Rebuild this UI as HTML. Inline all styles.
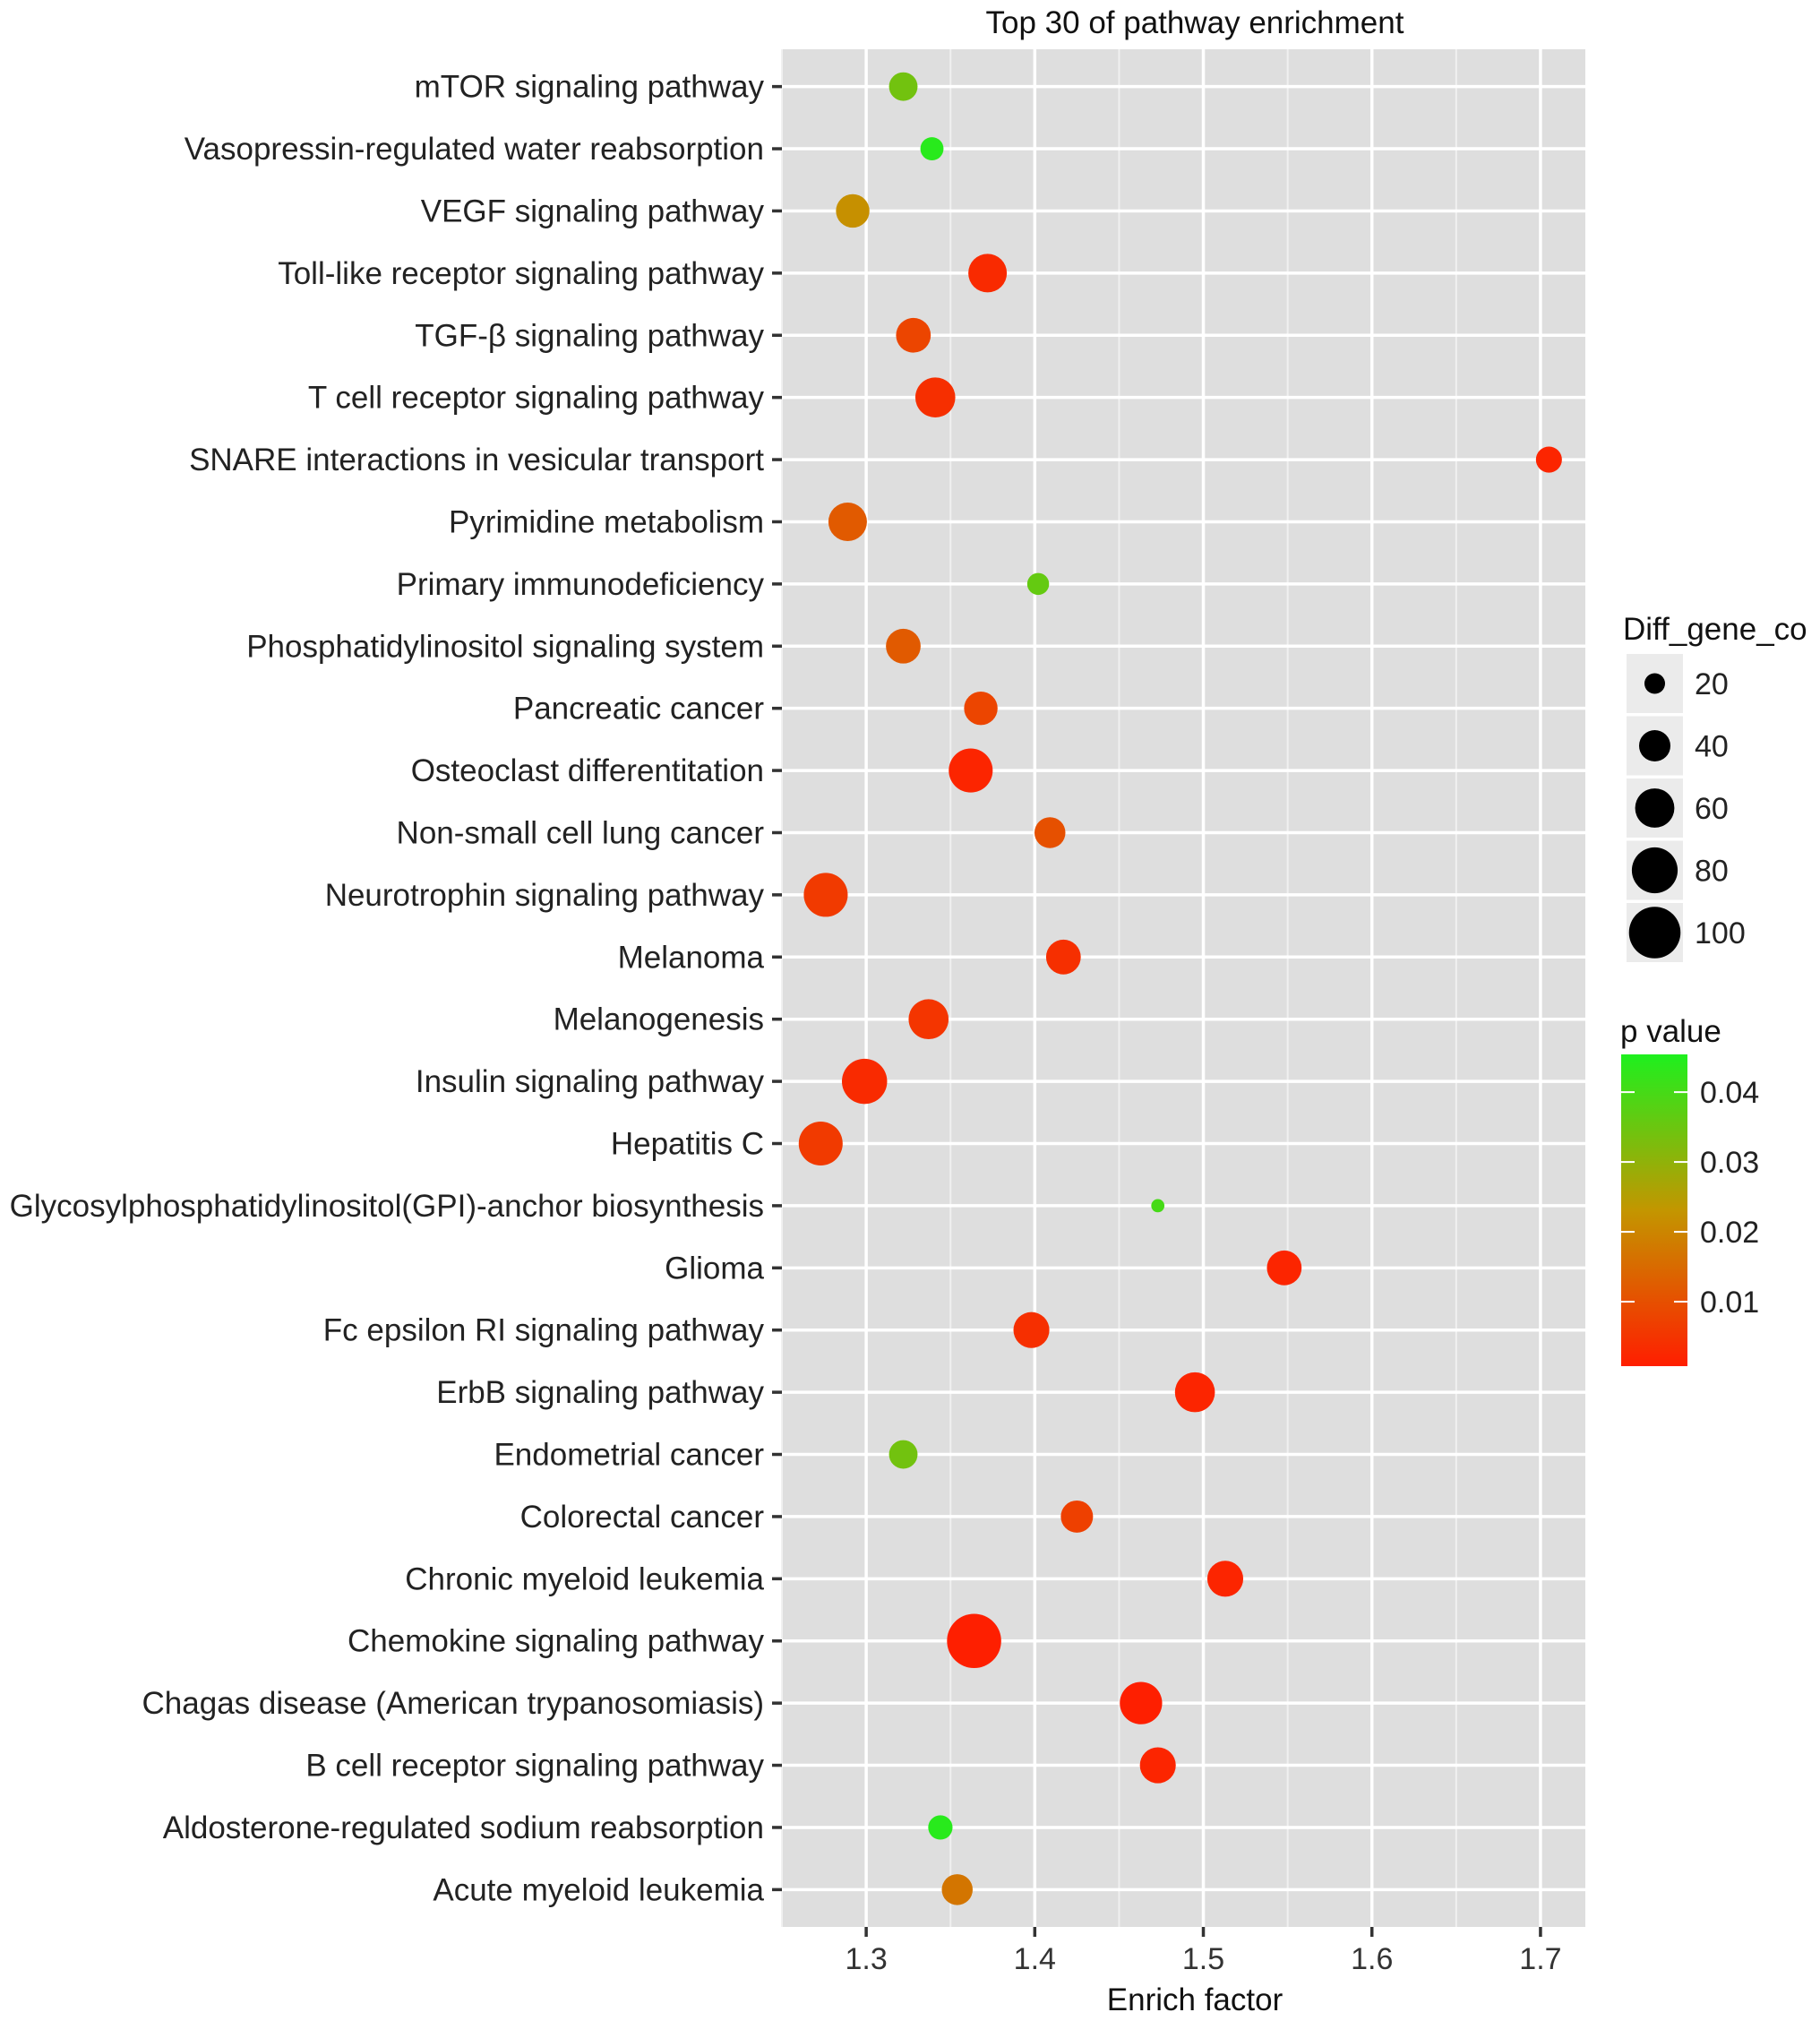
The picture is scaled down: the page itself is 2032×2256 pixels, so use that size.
<!DOCTYPE html>
<html><head><meta charset="utf-8"><style>
html,body{margin:0;padding:0;background:#fff}
svg{display:block;font-family:"Liberation Sans",Arial,sans-serif}
</style></head><body>
<svg id="chart" width="2032" height="2256" viewBox="0 0 2032 2256" xmlns="http://www.w3.org/2000/svg">
<defs>
<linearGradient id="pgrad" x1="0" y1="1" x2="0" y2="0">
<stop offset="0" stop-color="rgb(255,30,0)"/>
<stop offset="0.5" stop-color="rgb(195,150,0)"/>
<stop offset="1" stop-color="rgb(30,240,30)"/>
</linearGradient>
</defs>
<text x="1334" y="37" font-size="35" text-anchor="middle" fill="#111">Top 30 of pathway enrichment</text>
<rect x="873" y="55" width="897" height="2096" fill="#dedede"/>
<g id="grid"></g><g id="yaxis"></g><g id="xaxis"></g><g id="points"></g>
<text x="1334" y="2244" font-size="35" text-anchor="middle" fill="#111">Enrich factor</text>
<g id="sizeleg">
<text x="1812" y="714" font-size="35" fill="#111">Diff_gene_co</text>
</g>
<g id="colleg">
<text x="1809" y="1163" font-size="35" fill="#111">p value</text>
<rect x="1810" y="1177" width="74" height="348" fill="url(#pgrad)"/>
</g>
</svg>
<script>
const categories=["mTOR signaling pathway","Vasopressin-regulated water reabsorption","VEGF signaling pathway","Toll-like receptor signaling pathway","TGF-\u03B2 signaling pathway","T cell receptor signaling pathway","SNARE interactions in vesicular transport","Pyrimidine metabolism","Primary immunodeficiency","Phosphatidylinositol signaling system","Pancreatic cancer","Osteoclast differentitation","Non-small cell lung cancer","Neurotrophin signaling pathway","Melanoma","Melanogenesis","Insulin signaling pathway","Hepatitis C","Glycosylphosphatidylinositol(GPI)-anchor biosynthesis","Glioma","Fc epsilon RI signaling pathway","ErbB signaling pathway","Endometrial cancer","Colorectal cancer","Chronic myeloid leukemia","Chemokine signaling pathway","Chagas disease (American trypanosomiasis)","B cell receptor signaling pathway","Aldosterone-regulated sodium reabsorption","Acute myeloid leukemia"];
const enrichFactor=[1.322,1.339,1.292,1.372,1.328,1.341,1.705,1.289,1.402,1.322,1.368,1.362,1.409,1.276,1.417,1.337,1.299,1.273,1.473,1.548,1.398,1.495,1.322,1.425,1.513,1.364,1.463,1.473,1.344,1.354];
const geneCount=[34,24,45,58,48,62,29,58,22,48,45,74,39,74,48,62,78,74,11,48,51,62,34,42,51,110,69,51,26,39];
const pValue=[0.034,0.044,0.022,0.003,0.008,0.004,0.002,0.012,0.036,0.012,0.008,0.002,0.010,0.006,0.004,0.005,0.003,0.006,0.040,0.002,0.004,0.002,0.034,0.007,0.002,0.001,0.001,0.002,0.044,0.017];
const xTicks=[1.3,1.4,1.5,1.6,1.7];
const xMinor=[1.25,1.35,1.45,1.55,1.65];
const sizeBreaks=[20,40,60,80,100];
const pTicks=[0.01,0.02,0.03,0.04];

const NS="http://www.w3.org/2000/svg";
const P={l:873,r:1770,t:55,b:2151};
const xMin=1.25,xMax=1.7266;
const x=v=>P.l+(v-xMin)/(xMax-xMin)*(P.r-P.l);
const step=(P.b-P.t)/(categories.length-1+1.2);
const y=i=>P.t+step*(0.6+i);
const rad=n=>1.439*Math.sqrt(Math.max(16.8*n-80,20))/2;
const pMin=0.00077,pMax=0.0454;
const py=p=>1525-(p-pMin)/(pMax-pMin)*348;
function col(p){let t=Math.max(0,Math.min(1,(p-pMin)/(pMax-pMin)));
 const a=[255,30,0],m=[195,150,0],b=[30,240,30];let c;
 if(t<0.5){const u=t/0.5;c=a.map((v,k)=>v+(m[k]-v)*u);}else{const u=(t-0.5)/0.5;c=m.map((v,k)=>v+(b[k]-v)*u);}
 return `rgb(${c.map(Math.round).join(',')})`;}
function mk(tag,attrs,parent,txt){const e=document.createElementNS(NS,tag);for(const k in attrs)e.setAttribute(k,attrs[k]);if(txt!==undefined)e.textContent=txt;parent.appendChild(e);return e;}
const grid=document.getElementById('grid'),ya=document.getElementById('yaxis'),xa=document.getElementById('xaxis'),pts=document.getElementById('points');
xMinor.forEach(v=>{const e=mk('line',{x1:x(v),x2:x(v),y1:P.t,y2:P.b,stroke:'#f0f0f0','stroke-width':2},grid);

});
xTicks.forEach(v=>{const e=mk('line',{x1:x(v),x2:x(v),y1:P.t,y2:P.b,stroke:'#fff','stroke-width':3.5},grid);


const t=mk('line',{x1:x(v),x2:x(v),y1:P.b,y2:P.b+11,stroke:'#333','stroke-width':3.5},xa);


const l=mk('text',{x:x(v),y:2198,'font-size':34,'text-anchor':'middle',fill:'#333'},xa,v.toFixed(1));

});
categories.forEach((c,i)=>{const g=mk('line',{x1:P.l,x2:P.r,y1:y(i),y2:y(i),stroke:'#fff','stroke-width':3.5},grid);


const t=mk('line',{x1:P.l-11,x2:P.l,y1:y(i),y2:y(i),stroke:'#333','stroke-width':3.5},ya);


const l=mk('text',{x:P.l-20,y:y(i)+12,'font-size':35,'text-anchor':'end',fill:'#222'},ya,c);

});
categories.forEach((c,i)=>{const e=mk('circle',{cx:x(enrichFactor[i]),cy:y(i),r:rad(geneCount[i]),fill:col(pValue[i])},pts);

});
const sl=document.getElementById('sizeleg');
sizeBreaks.forEach((n,i)=>{const cy=763+i*69.5;
const b=mk('rect',{x:1816,y:cy-33,width:63,height:66,fill:'#ebebeb'},sl);


const c=mk('circle',{cx:1847.5,cy:cy,r:rad(n),fill:'#000'},sl);


const t=mk('text',{x:1892,y:cy+12,'font-size':34,fill:'#222'},sl,String(n));

});
const cl=document.getElementById('colleg');
pTicks.forEach(p=>{const yy=py(p);
const a=mk('line',{x1:1810,x2:1825,y1:yy,y2:yy,stroke:'#fff','stroke-width':2},cl);


const b=mk('line',{x1:1869,x2:1884,y1:yy,y2:yy,stroke:'#fff','stroke-width':2},cl);


const t=mk('text',{x:1898,y:yy+12,'font-size':34,fill:'#222'},cl,p.toFixed(2));

});
</script>
</body></html>
